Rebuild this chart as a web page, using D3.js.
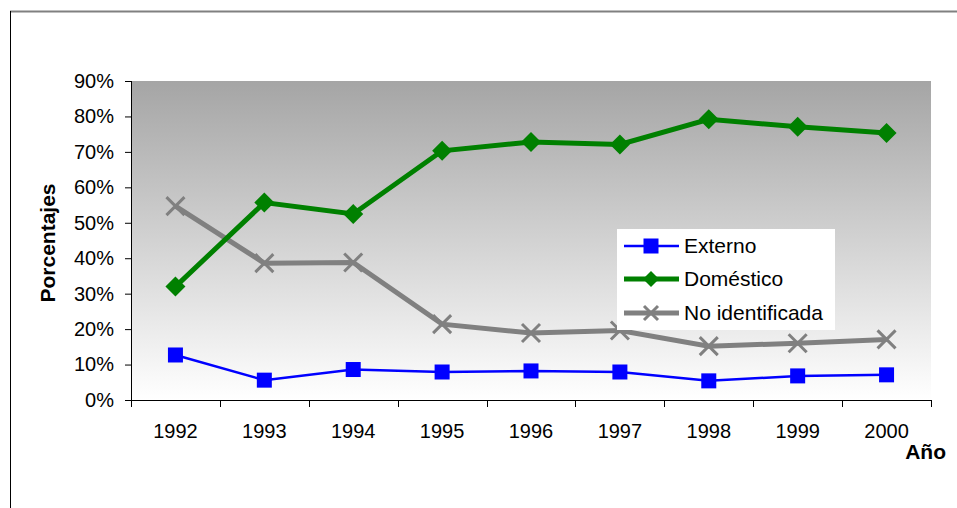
<!DOCTYPE html>
<html>
<head>
<meta charset="utf-8">
<script src="https://cdn.jsdelivr.net/npm/d3@7"></script>
<style>
  body { margin: 0; background: #fff; }
  text { font-family: "Liberation Sans", Arial, sans-serif; }
</style>
</head>
<body>
<div id="chart"></div>
<script>
// datos
var anios = ['1992', '1993', '1994', '1995', '1996', '1997', '1998', '1999', '2000'];
var externo = [12.7, 5.6, 8.6, 7.9, 8.2, 7.9, 5.4, 6.8, 7.1];
var domestico = [32.0, 55.7, 52.5, 70.3, 72.8, 72.1, 79.2, 77.1, 75.3];
var noIdent = [54.7, 38.6, 38.8, 21.4, 18.9, 19.6, 15.2, 16.0, 17.1];
var yTicks = [0, 10, 20, 30, 40, 50, 60, 70, 80, 90];
var nombres = ['Externo', 'Doméstico', 'No identificada'];

var W = 957, H = 508;
var m = { left: 131, right: 26, top: 81, bottom: 108 };

var svg = d3.select('#chart').append('svg')
    .attr('width', W).attr('height', H);

// marco del grafico
svg.append('line').attr('x1', 10).attr('x2', W).attr('y1', 11.5).attr('y2', 11.5)
    .attr('stroke', '#808080').attr('stroke-width', 2);
svg.append('line').attr('x1', 10.5).attr('x2', 10.5).attr('y1', 11).attr('y2', H)
    .attr('stroke', '#000').attr('stroke-width', 1);

var x = d3.scaleBand().domain(anios).range([m.left, W - m.right]);
var y = d3.scaleLinear().domain([0, 90]).range([H - m.bottom, m.top]);

// fondo degradado
var grad = svg.append('defs').append('linearGradient')
    .attr('id', 'fondo').attr('x1', 0).attr('x2', 0).attr('y1', 0).attr('y2', 1);
grad.append('stop').attr('offset', '0%').attr('stop-color', '#a5a5a5');
grad.append('stop').attr('offset', '100%').attr('stop-color', '#ffffff');

svg.append('rect')
    .attr('x', m.left).attr('y', y(90))
    .attr('width', W - m.right - m.left).attr('height', y(0) - y(90))
    .attr('fill', 'url(#fondo)');

// eje Y
var ay = svg.append('g').attr('transform', 'translate(' + m.left + ',0)')
    .call(d3.axisLeft(y).tickValues(yTicks).tickSize(6).tickPadding(11)
        .tickFormat(function (d) { return d + '%'; }));
ay.select('.domain').attr('d', 'M0.5,' + y(90) + 'V' + (y(0) + 0.5));
ay.selectAll('text').style('font-size', '20px').attr('fill', '#000')
    .style('font-family', '"Liberation Sans", Arial, sans-serif');

// eje X
var ax = svg.append('g').attr('transform', 'translate(0,' + y(0) + ')');
ax.append('line').attr('x1', m.left).attr('x2', W - m.right + 0.5)
    .attr('y1', 0.5).attr('y2', 0.5).attr('stroke', '#000');
var bordes = anios.map(function (a) { return x(a); }).concat([x(anios[anios.length - 1]) + x.bandwidth()]);
ax.selectAll('.tk').data(bordes).enter().append('line')
    .attr('x1', function (d) { return Math.round(d) + 0.5; })
    .attr('x2', function (d) { return Math.round(d) + 0.5; })
    .attr('y1', 0).attr('y2', 7).attr('stroke', '#000');
ax.selectAll('.lb').data(anios).enter().append('text')
    .attr('x', function (d) { return x(d) + x.bandwidth() / 2; })
    .attr('y', 38)
    .attr('text-anchor', 'middle')
    .style('font-size', '20px')
    .text(function (d) { return d; });

// titulos de ejes
svg.append('text')
    .attr('transform', 'translate(55,243) rotate(-90)')
    .attr('text-anchor', 'middle')
    .style('font-size', '21px').style('font-weight', 'bold')
    .text('Porcentajes');
svg.append('text')
    .attr('x', 946).attr('y', 459)
    .attr('text-anchor', 'end')
    .style('font-size', '21px').style('font-weight', 'bold')
    .text('Año');

var cx = function (d, i) { return x(anios[i]) + x.bandwidth() / 2; };
var linea = d3.line().x(cx).y(function (d) { return y(d); });

// No identificada
svg.append('path').datum(noIdent).attr('d', linea)
    .attr('fill', 'none').attr('stroke', '#808080').attr('stroke-width', 5);
function cruz(g, px, py, s) {
    g.append('path')
        .attr('d', 'M' + (px - s) + ',' + (py - s) + 'L' + (px + s) + ',' + (py + s) +
            'M' + (px - s) + ',' + (py + s) + 'L' + (px + s) + ',' + (py - s))
        .attr('stroke', '#808080').attr('stroke-width', 3).attr('fill', 'none');
}
noIdent.forEach(function (d, i) { cruz(svg, cx(d, i), y(d), 9); });

// Domestico
svg.append('path').datum(domestico).attr('d', linea)
    .attr('fill', 'none').attr('stroke', '#008000').attr('stroke-width', 5);
function rombo(g, px, py, s) {
    g.append('path')
        .attr('d', 'M' + px + ',' + (py - s) + 'L' + (px + s) + ',' + py + 'L' + px + ',' + (py + s) + 'L' + (px - s) + ',' + py + 'Z')
        .attr('fill', '#008000');
}
domestico.forEach(function (d, i) { rombo(svg, cx(d, i), y(d), 10); });

// Externo
svg.append('path').datum(externo).attr('d', linea)
    .attr('fill', 'none').attr('stroke', '#0000ff').attr('stroke-width', 2.5);
function cuadro(g, px, py, s) {
    g.append('rect').attr('x', px - s).attr('y', py - s)
        .attr('width', 2 * s).attr('height', 2 * s).attr('fill', '#0000ff');
}
externo.forEach(function (d, i) { cuadro(svg, cx(d, i), y(d), 7.5); });

// leyenda
var lg = svg.append('g').attr('transform', 'translate(617,229)');
lg.append('rect').attr('width', 218).attr('height', 101).attr('fill', '#fff');
var ly = [17, 50, 84];
lg.append('line').attr('x1', 7).attr('x2', 62).attr('y1', ly[0]).attr('y2', ly[0])
    .attr('stroke', '#0000ff').attr('stroke-width', 2.5);
cuadro(lg, 34, ly[0], 7.5);
lg.append('line').attr('x1', 7).attr('x2', 62).attr('y1', ly[1]).attr('y2', ly[1])
    .attr('stroke', '#008000').attr('stroke-width', 5);
rombo(lg, 34, ly[1], 8);
lg.append('line').attr('x1', 7).attr('x2', 62).attr('y1', ly[2]).attr('y2', ly[2])
    .attr('stroke', '#808080').attr('stroke-width', 5);
cruz(lg, 34, ly[2], 7);
lg.selectAll('.lt').data(nombres).enter().append('text')
    .attr('x', 67).attr('y', function (d, i) { return ly[i] + 7; })
    .style('font-size', '21px')
    .text(function (d) { return d; });
</script>
</body>
</html>
